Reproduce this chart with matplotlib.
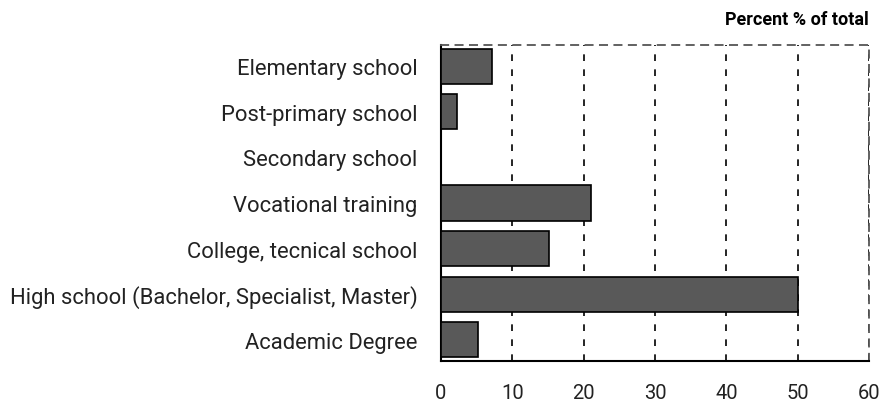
import numpy as np
import matplotlib.pyplot as plt

# Bildungsabschluss-Kategorien und Anteile (Prozent)
categories = ["Elementary school", "Post-primary school", "Secondary school",
              "Vocational training", "College, tecnical school",
              "High school (Bachelor, Specialist, Master)", "Academic Degree"]
percent = [7.2, 2.2, 0.0, 21.0, 15.1, 50.0, 5.2]
xticks = [0, 10, 20, 30, 40, 50, 60]

plt.rcParams['font.family'] = ['Roboto', 'DejaVu Sans']

fig = plt.figure(figsize=(8.81, 4.02), dpi=100)
ax = fig.add_axes([441/881, 1 - 362/402, 428/881, 316/402])

y = np.arange(len(categories))
ax.barh(y, percent, height=0.77, color='#595959', edgecolor='black', linewidth=1.2, zorder=3)

ax.set_ylim(len(categories) - 0.53, -0.47)
ax.set_xlim(0, 60)
ax.set_xticks(xticks)
ax.set_yticks(y)
ax.set_yticklabels(categories, fontsize=15.8, color='#222222')
ax.tick_params(axis='x', length=0, pad=16, labelsize=14.5, labelcolor='#222222')
ax.tick_params(axis='y', length=0, pad=17)

# gestrichelte Gitterlinien
ax.grid(axis='x', linestyle=(0, (4, 5)), color='black', linewidth=1.2, zorder=1)
ax.grid(axis='y', visible=False)

ax.spines['left'].set_linewidth(1.5)
ax.spines['bottom'].set_linewidth(1.5)
ax.spines['top'].set_linestyle((0, (4, 4)))
ax.spines['top'].set_color('#555555')
ax.spines['top'].set_linewidth(1.3)
ax.spines['right'].set_linestyle((0, (4, 4)))
ax.spines['right'].set_color('#555555')
ax.spines['right'].set_linewidth(1.3)

fig.text(869/881, 1 - 20/402, "Percent % of total", ha='right', va='center',
         fontsize=13, fontweight='bold')

fig.savefig("out.png", dpi=100)
